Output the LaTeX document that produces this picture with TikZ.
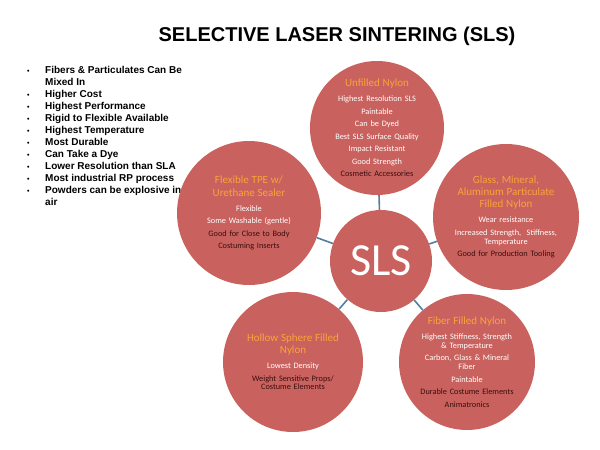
\documentclass[tikz,border=0pt]{standalone}
\usepackage{fontspec}
\setmainfont{Liberation Sans}
\newfontfamily\carlito{Carlito}
\usepackage{xcolor}
\usepackage{tikz}
\definecolor{bubblered}{RGB}{201,98,94}
\definecolor{titleorange}{RGB}{250,163,58}
\definecolor{darktxt}{RGB}{58,14,14}
\definecolor{linkblue}{RGB}{84,126,160}
\newcommand{\bt}[1]{{\fontsize{11}{12.3}\selectfont\color{titleorange}#1\par}\vspace{2.5pt}}
\newcommand{\bl}{{\fontsize{7}{12}\selectfont\textbullet}}

\begin{document}
\begin{tikzpicture}[x=1pt,y=-1pt,
    bubble/.style={circle, fill=bubblered, inner sep=0pt},
    bubbletext/.style={text width=150pt, align=center, inner sep=0pt, text=white, font=\carlito\fontsize{8.3}{12.5}\selectfont},
    link/.style={linkblue, line width=1.6pt}]
        \useasboundingbox (0,0) rectangle (600,450);
        %TITLE
        \node[font=\bfseries\fontsize{20}{24}\selectfont] (title) at (337,36) {SELECTIVE LASER SINTERING (SLS)};
        %BULLETS
        \node[anchor=north west, inner sep=0pt, align=left, font=\bfseries\fontsize{10}{12}\selectfont] (props) at (27,65) {%
            \begin{tabular}{@{}p{18pt}@{}l@{}}
            \bl & Fibers \& Particulates Can Be\\
                & Mixed In\\
            \bl & Higher Cost\\
            \bl & Highest Performance\\
            \bl & Rigid to Flexible Available\\
            \bl & Highest Temperature\\
            \bl & Most Durable\\
            \bl & Can Take a Dye\\
            \bl & Lower Resolution than SLA\\
            \bl & Most industrial RP process\\
            \bl & Powders can be explosive in\\
                & air
            \end{tabular}};
        %CIRCLES
        \node[bubble, minimum size=102pt] (sls) at (381,261) {};
        \node[bubble, minimum size=134pt] (unfilled) at (377,128) {};
        \node[bubble, minimum size=146pt] (glass) at (506,217) {};
        \node[bubble, minimum size=136pt] (fiber) at (467,362) {};
        \node[bubble, minimum size=140pt] (hollow) at (293,362) {};
        \node[bubble, minimum size=144pt] (flexible) at (249,213) {};
        %LINKS
        \foreach \outer in {unfilled,glass,fiber,hollow,flexible}
            \draw[link] (sls) -- (\outer);
        %TEXTS
        \node[text=white, font=\carlito\fontsize{46}{50}\selectfont] at (sls) {SLS};
        \node[bubbletext] at (unfilled) {\bt{Unfilled Nylon}Highest Resolution SLS\\ Paintable\\ Can be Dyed\\ Best SLS Surface Quality\\ Impact Resistant\\ Good Strength\\ {\color{darktxt}Cosmetic Accessories}};
        \node[bubbletext] at (glass) {\bt{Glass, Mineral,\\ Aluminum Particulate\\ Filled Nylon}Wear resistance\\ Increased Strength,~ Stiffness,\\[-3.5pt] Temperature\\ {\color{darktxt}Good for Production Tooling}};
        \node[bubbletext] at (fiber) {\bt{Fiber Filled Nylon}Highest Stiffness, Strength\\[-3.5pt] \& Temperature\\ Carbon, Glass \& Mineral\\[-3.5pt] Fiber\\ Paintable\\ {\color{darktxt}Durable Costume Elements\\ Animatronics}};
        \node[bubbletext] at (hollow) {\bt{Hollow Sphere Filled\\ Nylon}Lowest Density\\ {\color{darktxt}Weight Sensitive Props/\\[-4pt] Costume Elements}};
        \node[bubbletext] at (flexible) {\bt{Flexible TPE w/\\ Urethane Sealer}Flexible\\ Some Washable (gentle)\\ {\color{darktxt}Good for Close to Body\\ Costuming Inserts}};
    \end{tikzpicture}
\end{document}
